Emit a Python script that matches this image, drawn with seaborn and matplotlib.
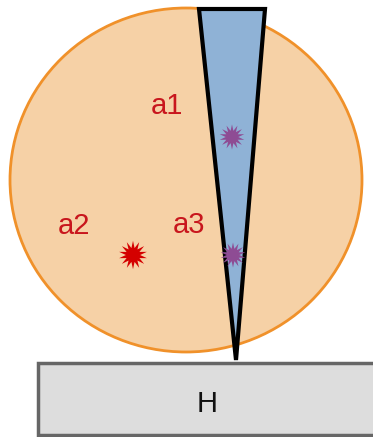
import matplotlib
matplotlib.use('Agg')
import matplotlib.pyplot as plt
import seaborn as sns
import pandas as pd
from matplotlib.patches import Ellipse, Polygon, Rectangle

# dados do esquema (coordenadas em pixels da figura)
star_x = [133, 232, 233]
star_y = [255, 137, 255]
star_kind = ['a2', 'a1', 'a3']
star_size = [420, 330, 330]
label_text = ['a1', 'a2', 'a3']
label_x = [167, 74, 189]
label_y = [114, 234, 233]

sns.set_style('white')
plt.rcParams['font.family'] = ['Liberation Sans', 'DejaVu Sans']

fig = plt.figure(figsize=(3.73, 4.37), dpi=100)
ax = fig.add_axes([0, 0, 1, 1])
ax.set_xlim(0, 373)
ax.set_ylim(437, 0)

# esfera
ax.add_patch(Ellipse((186, 180), 352, 344, facecolor='#F6D1A6', edgecolor='#F0912A', lw=2, zorder=1))

# cone
ax.add_patch(Polygon([(199, 9), (265, 9), (236, 360)], closed=True,
                     facecolor='#8FB2D6', edgecolor='black', lw=3, joinstyle='miter', zorder=2))

# base H
ax.add_patch(Rectangle((38, 363), 340, 72, facecolor='#DDDDDD', edgecolor='#666666', lw=2.5, zorder=3))
ax.text(207, 412, 'H', fontsize=21, ha='center', va='baseline', color='#111111', zorder=4)

df = pd.DataFrame({'x': star_x, 'y': star_y, 'tipo': star_kind, 'tam': star_size})
cores = {'a2': '#D40000', 'a1': '#8E4C94', 'a3': '#8E4C94'}
sns.scatterplot(data=df, x='x', y='y', hue='tipo', palette=cores, size='tam',
                sizes=(330, 420), marker=(14, 1, 0), linewidth=0, legend=False, ax=ax, zorder=5)
ax.axis('off')

for t, x, y in zip(label_text, label_x, label_y):
    ax.text(x, y, t, fontsize=21, color='#C8161D', ha='center', va='baseline', zorder=6)

fig.savefig('out.png', dpi=100)
